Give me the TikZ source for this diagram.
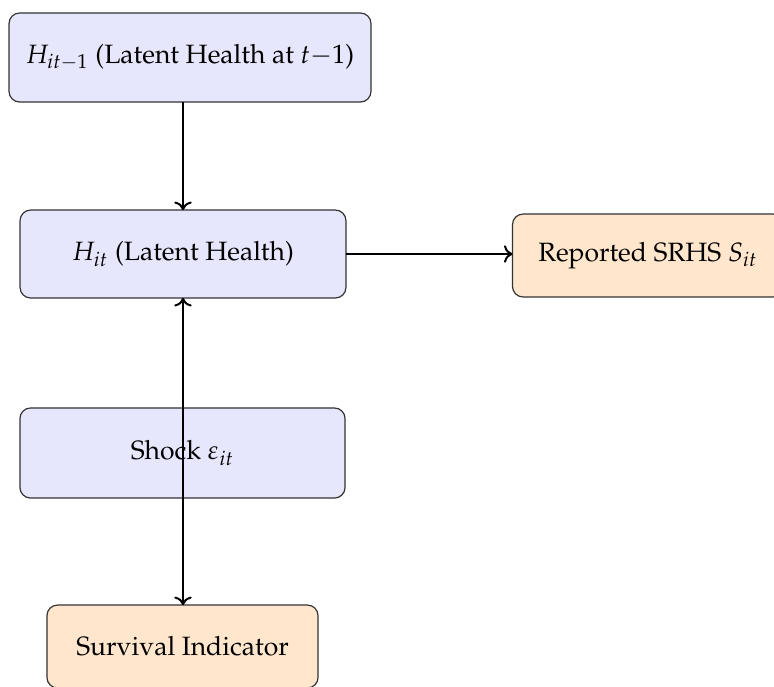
\documentclass[tikz,border=0pt]{standalone}
\usepackage[T1]{fontenc}
\usepackage{mathpazo}
\usetikzlibrary{arrows.meta}
\definecolor{boxblue}{RGB}{230,230,252}
\definecolor{boxorange}{RGB}{255,230,204}
\tikzset{
  latent/.style={draw=black!80, fill=boxblue, rounded corners=4pt, inner sep=0pt, outer sep=0pt, font=\fontsize{10}{12}\selectfont, line width=0.45pt},
  observed/.style={draw=black!80, fill=boxorange, rounded corners=4pt, inner sep=0pt, outer sep=0pt, font=\fontsize{10}{12}\selectfont, line width=0.45pt,
    minimum width=102.3pt, minimum height=31.3pt},
  link/.style={-{To[width=6.6pt,length=3.2pt]}, line width=0.75pt, black}
}
\begin{document}
\begin{tikzpicture}[x=0.3774pt, y=-0.3774pt]
\useasboundingbox (0,0) rectangle (774,686);
\clip (0,0) rectangle (774,686);
\node[latent, minimum width=136.6pt, minimum height=33.6pt] (prev) at (190,57.5) {$H_{it-1}$ (Latent Health at $t{-}1$)};
\node[latent, minimum width=123.0pt, minimum height=33.2pt] (H) at (183,254) {$H_{it}$ (Latent Health)};
\node[observed] (srhs) at (648,255.5) {Reported SRHS $S_{it}$};
\node[latent, minimum width=122.7pt, minimum height=34.0pt] (shock) at (182.5,453) {Shock $\varepsilon_{it}$};
\node[observed] (surv) at (182.5,646.5) {Survival Indicator};
\draw[link] (prev.south -| H.north) -- (H.north);
\draw[link] (H.east) -- (H.east -| srhs.west);
\draw[link] (H.south |- shock.center) -- (H.south);
\draw[link] (H.south) -- (H.south |- surv.north);
\end{tikzpicture}
\end{document}
